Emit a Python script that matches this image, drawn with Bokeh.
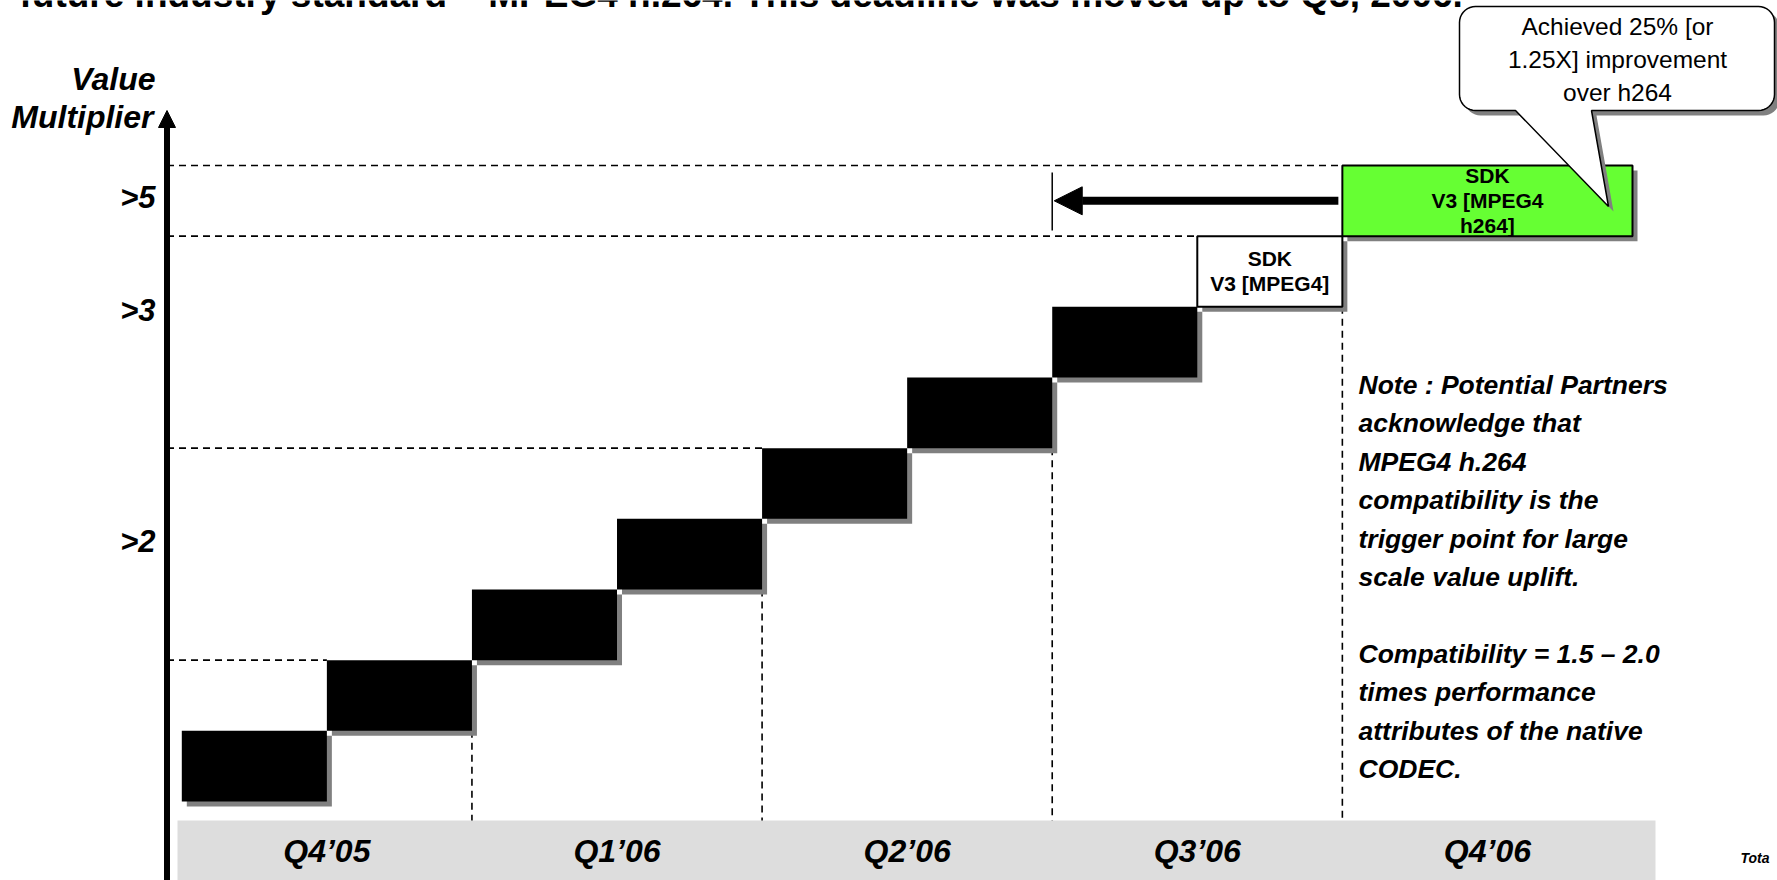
import numpy as np
from bokeh.plotting import figure
from bokeh.models import Range1d, Arrow, NormalHead
from bokeh.embed import file_html
from bokeh.resources import INLINE
from bokeh.core.properties import value

# ---------------- data ----------------
title_text = "future industry standard – MPEG4 h.264. This deadline was moved up to Q3, 2006."
quarters = ["Q4’05", "Q1’06", "Q2’06", "Q3’06", "Q4’06"]
quarter_first_slot = [0, 2, 4, 6, 8]          # each quarter = 2 half-quarter slots

step_slot = [0, 1, 2, 3, 4, 5, 6, 7, 8]        # half-quarter slot where each milestone starts
step_level = [0, 1, 2, 3, 4, 5, 6, 7, 8]       # value step of each milestone
step_span = [1, 1, 1, 1, 1, 1, 1, 1, 2]        # length in half-quarter slots
step_kind = ["dev", "dev", "dev", "dev", "dev", "dev", "dev", "mpeg4", "h264"]
step_labels = ["", "", "", "", "", "", "", "SDK\nV3 [MPEG4]", "SDK\nV3 [MPEG4\nh264]"]

y_labels = [">2", ">3", ">5"]
y_label_levels = [3.68, 6.95, 8.55]
axis_title = ["Value", "Multiplier"]

h_guide_levels = [2, 5, 8, 9]
h_guide_end_slots = [1, 4, 7, 8]
v_guide_slots = [2, 4, 6, 8]
v_guide_top_levels = [1, 3, 5, 7]

moved_from_slot = 8
moved_to_slot = 6
moved_level = 8.5

callout_lines = ["Achieved 25% [or", "1.25X] improvement", "over h264"]
note_lines = [
    "Note : Potential Partners",
    "acknowledge that",
    "MPEG4 h.264",
    "compatibility is the",
    "trigger point for large",
    "scale value uplift.",
    "",
    "Compatibility = 1.5 – 2.0",
    "times performance",
    "attributes of the native",
    "CODEC.",
]
footer_text = "Tota"

# ---------------- layout (screen pixels) ----------------
W, H = 1777, 880
SLOT_X0 = 181.3      # screen x of slot 0
SLOT_W = 145.07      # px per half-quarter slot
LEVEL_Y0 = 801.0     # screen y of level 0
LEVEL_H = 70.67      # px per level
SH = 5               # shadow offset px

def dx(px):
    return (px - SLOT_X0) / SLOT_W

def dy(py):
    return (LEVEL_Y0 - py) / LEVEL_H

sdx = SH / SLOT_W
sdy = SH / LEVEL_H
FONT = value("Liberation Sans")

p = figure(width=W, height=H,
           x_range=Range1d(dx(0), dx(W)),
           y_range=Range1d(dy(H), dy(0)),
           output_backend="svg", toolbar_location=None, min_border=0,
           x_axis_location=None, y_axis_location=None)
p.grid.visible = False
p.outline_line_color = None
p.background_fill_color = "white"
p.border_fill_color = "white"

# gray quarter band
p.quad(left=[dx(177)], right=[dx(1655)], top=[dy(820)], bottom=[dy(H + 20)],
       fill_color="#DDDDDD", line_color=None)

# dashed guide lines
axis_x = dx(166.5)
p.segment(x0=[axis_x] * len(h_guide_levels), y0=h_guide_levels,
          x1=h_guide_end_slots, y1=h_guide_levels,
          line_color="black", line_width=1.6, line_dash="7 5")
p.segment(x0=v_guide_slots, y0=v_guide_top_levels,
          x1=v_guide_slots, y1=[dy(820)] * len(v_guide_slots),
          line_color="black", line_width=1.6, line_dash="7 5")

# milestone boxes
lefts = np.array(step_slot, dtype=float)
rights = lefts + np.array(step_span)
bottoms = np.array(step_level, dtype=float)
tops = bottoms + 1
fill_map = {"dev": "black", "mpeg4": "white", "h264": "#66FF33"}
line_map = {"dev": None, "mpeg4": "black", "h264": "black"}

for i in range(len(step_slot)):
    p.quad(left=[lefts[i] + sdx], right=[rights[i] + sdx],
           top=[tops[i] - sdy], bottom=[bottoms[i] - sdy],
           fill_color="#808080", line_color=None)
for i in range(len(step_slot)):
    k = step_kind[i]
    p.quad(left=[lefts[i]], right=[rights[i]], top=[tops[i]], bottom=[bottoms[i]],
           fill_color=fill_map[k], line_color=line_map[k], line_width=2)

# labels inside SDK boxes
LINE_PX = 25
for i, lab in enumerate(step_labels):
    if not lab:
        continue
    lines = lab.split("\n")
    cx = (lefts[i] + rights[i]) / 2
    cy_px = LEVEL_Y0 - (bottoms[i] + 0.5) * LEVEL_H
    n = len(lines)
    ys = [dy(cy_px + (j - (n - 1) / 2) * LINE_PX) for j in range(n)]
    p.text(x=[cx] * n, y=ys, text=lines, text_font=FONT, text_font_size="21px",
           text_font_style="bold", text_align="center", text_baseline="middle",
           text_color="black")

# quarter labels
p.text(x=[q + 1 for q in quarter_first_slot], y=[dy(850)] * len(quarters), text=quarters,
       text_font=FONT, text_font_size="32px", text_font_style="bold italic",
       text_align="center", text_baseline="middle", text_color="black")

# y labels
p.text(x=[dx(155)] * len(y_labels), y=y_label_levels, text=y_labels,
       text_font=FONT, text_font_size="31px", text_font_style="bold italic",
       text_align="right", text_baseline="middle", text_color="black")
p.text(x=[dx(155), dx(153)], y=[dy(78), dy(116)], text=axis_title,
       text_font=FONT, text_font_size="32px", text_font_style="bold italic",
       text_align="right", text_baseline="middle", text_color="black")

# vertical value axis with arrow head
p.add_layout(Arrow(end=NormalHead(size=17, fill_color="black", line_color="black"),
                   x_start=axis_x, y_start=dy(H + 10), x_end=axis_x, y_end=dy(110),
                   line_color="black", line_width=6))

# "moved up" arrow
p.segment(x0=[moved_to_slot], y0=[dy(230)], x1=[moved_to_slot], y1=[dy(172)],
          line_color="black", line_width=1.5)
p.add_layout(Arrow(end=NormalHead(size=28, fill_color="black", line_color="black"),
                   x_start=moved_from_slot - 4 / SLOT_W, y_start=moved_level,
                   x_end=moved_to_slot + 2 / SLOT_W, y_end=moved_level,
                   line_color="black", line_width=8))

# note text
NOTE_MID = 384.5
NOTE_STEP = 38.4
p.text(x=[dx(1358)] * len(note_lines),
       y=[dy(NOTE_MID + i * NOTE_STEP) for i in range(len(note_lines))],
       text=note_lines, text_font=FONT, text_font_size="26.5px",
       text_font_style="bold italic", text_align="left", text_baseline="middle",
       text_color="black")

# callout bubble
def bubble(L, T, R, B, r, x1, x2, tipx, tipy, n=10):
    pts = []
    def arc(cx, cy, a0, a1):
        for a in np.linspace(a0, a1, n):
            pts.append((cx + r * np.cos(a), cy + r * np.sin(a)))
    arc(L + r, T + r, np.pi, 1.5 * np.pi)
    arc(R - r, T + r, 1.5 * np.pi, 2 * np.pi)
    arc(R - r, B - r, 0, 0.5 * np.pi)
    pts.append((x2, B))
    pts.append((tipx, tipy))
    pts.append((x1, B))
    arc(L + r, B - r, 0.5 * np.pi, np.pi)
    pts.append(pts[0])
    return [dx(a) for a, b in pts], [dy(b) for a, b in pts]

bx, by = bubble(1459 + SH, 6 + SH, 1774 + SH, 110 + SH, 16, 1515 + SH, 1591 + SH, 1608 + SH, 206 + SH)
p.patch(bx, by, fill_color="#808080", line_color=None)
bx, by = bubble(1459, 6, 1774, 110, 16, 1515, 1591, 1608, 206)
p.patch(bx, by, fill_color="white", line_color="black", line_width=1.5)

p.text(x=[dx(1617)] * 3, y=[dy(26), dy(59), dy(92)], text=callout_lines,
       text_font=FONT, text_font_size="24.5px", text_align="center",
       text_baseline="middle", text_color="black")

# title (cut by the top edge, as in the slide) and footer
p.text(x=[dx(19)], y=[dy(-6)], text=[title_text], text_font=FONT,
       text_font_size="37px", text_font_style="bold", text_align="left",
       text_baseline="middle", text_color="black")
p.text(x=[dx(1740)], y=[dy(857)], text=[footer_text], text_font=FONT,
       text_font_size="14px", text_font_style="bold italic", text_align="left",
       text_baseline="middle", text_color="black")

open("out.html", "w").write(file_html(p, INLINE))
